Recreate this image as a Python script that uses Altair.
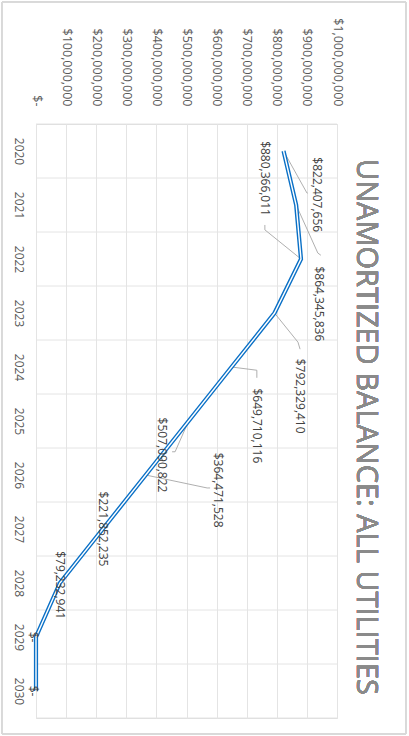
import altair as alt
import pandas as pd

# ---- data ----
years = [2020, 2021, 2022, 2023, 2024, 2025, 2026, 2027, 2028, 2029, 2030]
balances = [822407656, 864345836, 880366011, 792329410, 649710116, 507090822,
            364471528, 221852235, 79232941, 0, 0]
value_ticks = [0, 100000000, 200000000, 300000000, 400000000, 500000000,
               600000000, 700000000, 800000000, 900000000, 1000000000]
title_text = "UNAMORTIZED BALANCE: ALL UTILITIES"

# data-label placement (offset from its point, in data units: dollars, years)
label_dv = [111e6, 76e6, -120e6, 85e6, 84e6, -88e6, 240e6, 0, 0, -10e6, -10e6]
label_dy = [0.81, 1.83, -1.49, 1.54, 1.09, 0.63, 0.28, 0.0, 0.04, 0.0, 0.0]

# leader lines (elbow and end offsets from the point); None = no leader
leader_mid_dv = [78e6, 72e6, -120e6, 78e6, 84e6, -45e6, 204e6, None, None, None, None]
leader_mid_dy = [0.78, 0.89, -0.54, 0.54, 0.06, 0.57, 0.24, None, None, None, None]
leader_end_dv = [80e6, 82e6, -120e6, 85e6, 84e6, -55e6, 214e6, None, None, None, None]
leader_end_dy = [0.78, 0.93, -0.63, 0.67, 0.20, 0.57, 0.24, None, None, None, None]


def money(v):
    return "$-" if v == 0 else "${:,.0f}".format(v)


df = pd.DataFrame({"year": years, "balance": balances})

lab = pd.DataFrame({
    "lx": [b + d for b, d in zip(balances, label_dv)],
    "ly": [y + d for y, d in zip(years, label_dy)],
    "text": [money(b) for b in balances],
})

rows = []
for i, (y, b) in enumerate(zip(years, balances)):
    if leader_mid_dv[i] is None:
        continue
    rows.append({"id": i, "o": 0, "v": b, "y": y})
    rows.append({"id": i, "o": 1, "v": b + leader_mid_dv[i], "y": y + leader_mid_dy[i]})
    rows.append({"id": i, "o": 2, "v": b + leader_end_dv[i], "y": y + leader_end_dy[i]})
leaders = pd.DataFrame(rows)

bounds = pd.DataFrame({"yb": [y - 0.5 for y in years] + [years[-1] + 0.5]})

FONT = "Open Sans"
W, H = 301, 594

xs = alt.Scale(domain=[0, 1e9], nice=False, zero=False)
ys = alt.Scale(domain=[years[0] - 0.5, years[-1] + 0.5], reverse=True, nice=False, zero=False)

x_axis = alt.Axis(orient="top", values=value_ticks, labelAngle=90, labelAlign="right",
                  labelBaseline="middle", labelPadding=18, grid=True, gridColor="#e4e4e4",
                  gridWidth=1, ticks=False, domain=False, title=None, labelOverlap=False,
                  labelBound=False, tickCount=11,
                  labelExpr="datum.value == 0 ? '$-' : '$' + format(datum.value, ',')",
                  labelFont=FONT, labelFontSize=12.5, labelColor="#595959")
y_axis = alt.Axis(orient="left", values=years, labelAngle=90, labelAlign="center",
                  labelBaseline="top", labelPadding=13, grid=False, ticks=False,
                  domain=False, title=None, format="d", labelOverlap=False,
                  labelFont=FONT, labelFontSize=12, labelColor="#595959")

X = lambda f: alt.X(f, type="quantitative", scale=xs, axis=x_axis)
Y = lambda f: alt.Y(f, type="quantitative", scale=ys, axis=y_axis)

base = alt.Chart(df)

hgrid = alt.Chart(bounds).mark_rule(color="#e4e4e4", strokeWidth=1).encode(
    y=Y("yb"), x=alt.value(0), x2=alt.value(W),
)

frame = alt.Chart(df).mark_rect(fill=None, stroke="#d9d9d9", strokeWidth=1).encode(
    x=alt.value(-34), x2=alt.value(370), y=alt.value(-122), y2=alt.value(610)
)

title = alt.Chart(df).mark_text(text=title_text, angle=90, align="center", baseline="middle",
                                font=FONT, fontSize=29, color="#8a8a8a").encode(
    x=alt.value(W + 29), y=alt.value(H / 2 + 6)
)

leader_lines = alt.Chart(leaders).mark_line(color="#a6a6a6", strokeWidth=0.9).encode(
    x=X("v"), y=Y("y"), detail="id:N", order="o:Q",
)

line_outer = base.mark_line(color="#0a70c6", strokeWidth=4.2).encode(
    x=X("balance"), y=Y("year"), order="year:Q",
)
line_inner = base.mark_line(color="white", strokeWidth=1.4).encode(
    x=X("balance"), y=Y("year"), order="year:Q",
)

labels = alt.Chart(lab).mark_text(angle=90, align="center", baseline="middle",
                                  font=FONT, fontSize=12, color="#404040").encode(
    x=X("lx"), y=Y("ly"), text="text:N",
)

chart = alt.layer(frame, hgrid, leader_lines, line_outer, line_inner, labels, title).properties(
    width=W, height=H,
    autosize=alt.AutoSizeParams(type="none"),
    padding={"left": 36, "top": 124, "right": 72, "bottom": 18},
).configure_view(stroke=None).configure(background="white")

chart.save("out.html", embed_options={"renderer": "svg", "actions": False})
